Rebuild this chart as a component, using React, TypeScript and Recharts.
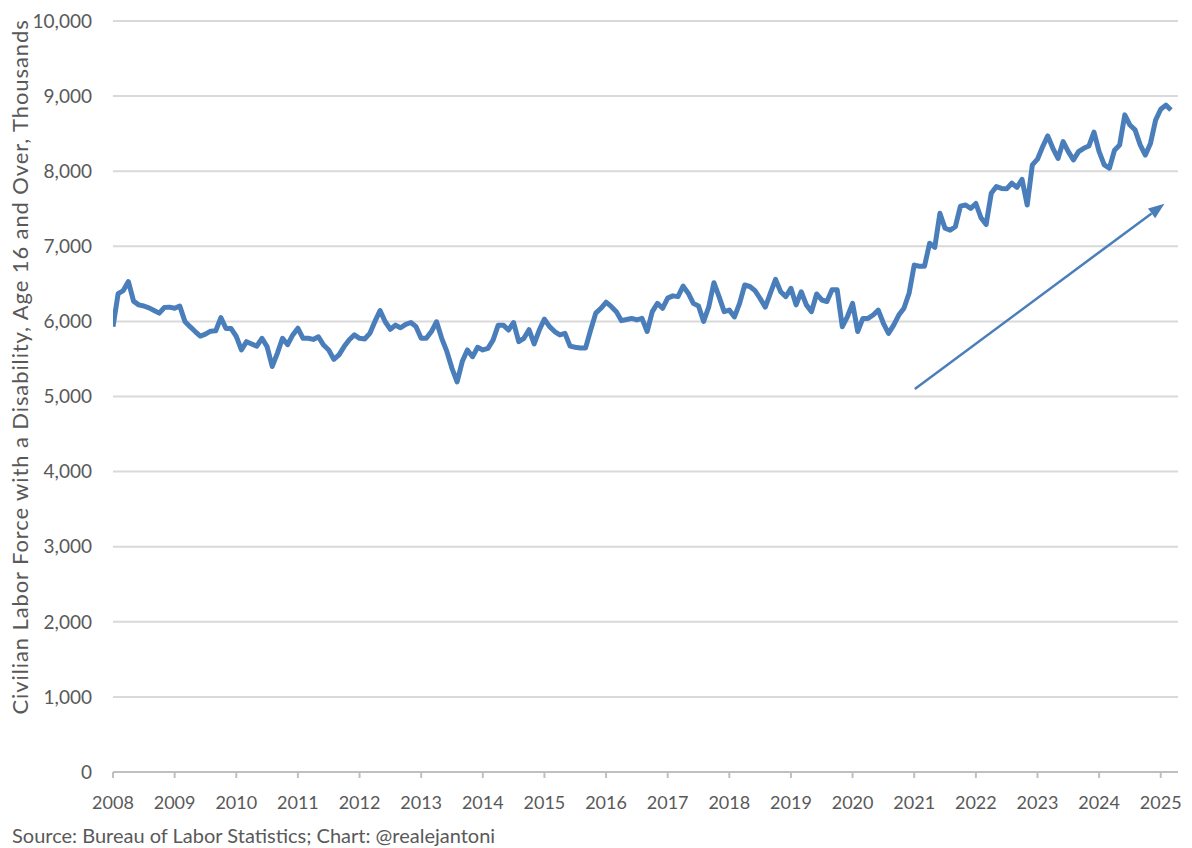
import { LineChart, Line, XAxis, YAxis, CartesianGrid, ReferenceLine } from "recharts";

// monthly values, Jan 2008 .. Mar 2025 (thousands)
const laborForce = [
  5930, 6370, 6410, 6530, 6270, 6220, 6205, 6180, 6145, 6110, 6185, 6190, // 2008
  6175, 6205, 6000, 5930, 5865, 5805, 5830, 5870, 5875, 6050, 5905, 5905, // 2009
  5800, 5620, 5730, 5700, 5670, 5775, 5665, 5400, 5575, 5775, 5690, 5820, // 2010
  5910, 5775, 5775, 5760, 5795, 5685, 5620, 5495, 5555, 5665, 5755, 5820, // 2011
  5775, 5765, 5840, 6000, 6145, 5995, 5895, 5950, 5915, 5960, 5985, 5930, // 2012
  5775, 5775, 5865, 5995, 5775, 5600, 5375, 5195, 5465, 5620, 5530, 5655, // 2013
  5620, 5640, 5750, 5950, 5950, 5885, 5985, 5730, 5775, 5890, 5700, 5885, // 2014
  6030, 5930, 5865, 5820, 5840, 5670, 5655, 5645, 5645, 5885, 6110, 6175, // 2015
  6255, 6200, 6130, 6010, 6025, 6040, 6020, 6040, 5865, 6130, 6240, 6175, // 2016
  6310, 6340, 6330, 6470, 6375, 6240, 6205, 6000, 6195, 6515, 6330, 6130, // 2017
  6150, 6060, 6240, 6485, 6465, 6410, 6305, 6190, 6375, 6560, 6395, 6330, // 2018
  6440, 6220, 6395, 6220, 6130, 6365, 6285, 6265, 6420, 6420, 5930, 6065, // 2019
  6240, 5865, 6040, 6040, 6085, 6150, 5975, 5840, 5950, 6085, 6175, 6375, // 2020
  6750, 6735, 6735, 7040, 6985, 7440, 7240, 7215, 7260, 7535, 7550, 7505, // 2021
  7570, 7380, 7290, 7705, 7795, 7770, 7765, 7840, 7785, 7890, 7550, 8085, // 2022
  8160, 8325, 8470, 8305, 8170, 8395, 8260, 8150, 8260, 8305, 8335, 8520, // 2023
  8260, 8085, 8040, 8280, 8350, 8750, 8615, 8550, 8350, 8215, 8370, 8680, // 2024
  8825, 8880, 8815, // 2025
];
const startYear = 2008;

const yearTicks = [2008, 2009, 2010, 2011, 2012, 2013, 2014, 2015, 2016, 2017, 2018, 2019, 2020, 2021, 2022, 2023, 2024, 2025];
const valueTicks = [0, 1000, 2000, 3000, 4000, 5000, 6000, 7000, 8000, 9000, 10000];

// trend arrow, from / to (year, thousands)
const arrowFrom = { x: 2021.01, y: 5100 };
const arrowTo = { x: 2025.06, y: 7565 };

const BLUE = "#4a7ebb";
const GREY_TEXT = "#595959";
const FONT = "Lato, 'Open Sans', sans-serif";

const data = laborForce.map((v, i) => ({ t: startYear + i / 12, value: v }));

function Arrow(props: any) {
  const { x1, y1, x2, y2 } = props;
  const ang = Math.atan2(y2 - y1, x2 - x1);
  const len = 16;
  const half = 6;
  const bx = x2 - len * Math.cos(ang);
  const by = y2 - len * Math.sin(ang);
  const px = -Math.sin(ang) * half;
  const py = Math.cos(ang) * half;
  return (
    <g>
      <line x1={x1} y1={y1} x2={bx} y2={by} stroke={BLUE} strokeWidth={2.5} />
      <polygon points={`${x2},${y2} ${bx + px},${by + py} ${bx - px},${by - py}`} fill={BLUE} />
    </g>
  );
}

export default function App() {
  return (
    <div style={{ position: "absolute", left: 0, top: 0, width: 1192, height: 848, background: "#fff", fontFamily: FONT }}>
      <LineChart
        width={1192}
        height={848}
        data={data}
        margin={{ top: 21, right: 14, bottom: 46, left: 0 }}
      >
        <CartesianGrid vertical={false} stroke="#d9d9d9" strokeWidth={2} />
        <XAxis
          dataKey="t"
          type="number"
          domain={[2008, 2025.28]}
          ticks={yearTicks}
          interval={0}
          allowDataOverflow
          tickFormatter={(v) => String(Math.round(v))}
          tick={{ fill: GREY_TEXT, fontSize: 18, fontFamily: FONT }}
          axisLine={{ stroke: "#bfbfbf", strokeWidth: 2 }}
          tickLine={{ stroke: "#bfbfbf", strokeWidth: 2 }}
          tickSize={6}
          tickMargin={18}
        />
        <YAxis
          width={113}
          domain={[0, 10000]}
          ticks={valueTicks}
          interval={0}
          tickFormatter={(v) => v.toLocaleString("en-US")}
          tick={{ fill: GREY_TEXT, fontSize: 19, fontFamily: FONT }}
          axisLine={false}
          tickLine={false}
          tickSize={0}
          tickMargin={21}
        />
        <ReferenceLine segment={[arrowFrom, arrowTo]} shape={Arrow} />
        <Line
          type="linear"
          dataKey="value"
          stroke={BLUE}
          strokeWidth={5}
          dot={false}
          strokeLinejoin="round"
          isAnimationActive={false}
        />
      </LineChart>
      <div
        style={{
          position: "absolute",
          left: 19,
          top: 367,
          transform: "translate(-50%, -50%) rotate(-90deg)",
          whiteSpace: "nowrap",
          fontSize: 22,
          letterSpacing: 0.9,
          color: GREY_TEXT,
        }}
      >
        Civilian Labor Force with a Disability, Age 16 and Over, Thousands
      </div>
      <div
        style={{
          position: "absolute",
          left: 12,
          top: 823,
          whiteSpace: "nowrap",
          fontSize: 20,
          color: GREY_TEXT,
        }}
      >
        Source: Bureau of Labor Statistics; Chart: @realejantoni
      </div>
    </div>
  );
}
